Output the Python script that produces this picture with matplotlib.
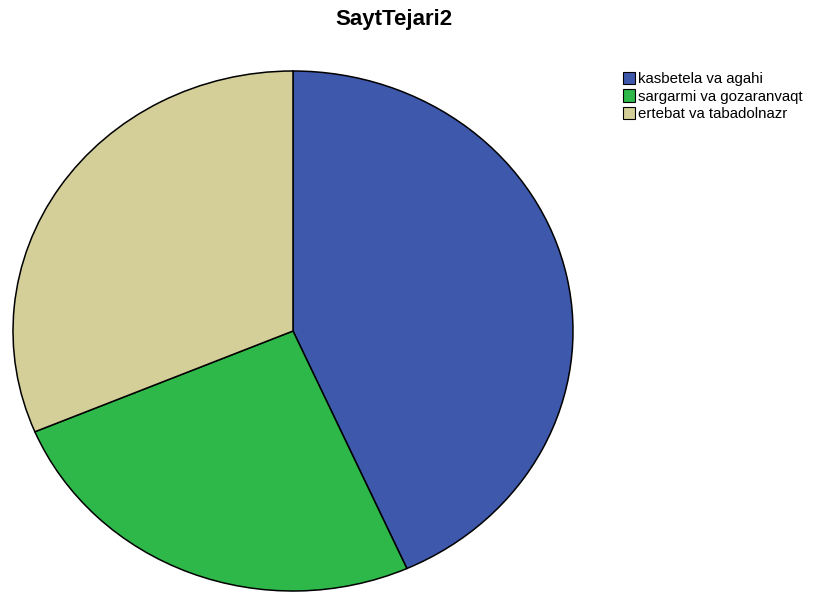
import matplotlib
matplotlib.use('agg')
import matplotlib.pyplot as plt
from matplotlib.patches import Patch

labels = ['kasbetela va agahi', 'sargarmi va gozaranvaqt', 'ertebat va tabadolnazr']
counts = [65, 38, 47]
colors = ['#3e58ac', '#2eb84a', '#d4ce98']

plt.rcParams['font.family'] = ['Liberation Sans', 'DejaVu Sans']

W, H = 823, 592
fig = plt.figure(figsize=(W / 100, H / 100), dpi=100)

# pie area in pixels: left 13, top 71, width 560, height 520 (stretched ellipse)
ax = fig.add_axes([13 / W, 1 - (71 + 520) / H, 560 / W, 520 / H])
ax.pie(counts, colors=colors, startangle=90, counterclock=False,
       wedgeprops=dict(edgecolor='black', linewidth=1.1))
ax.set_aspect('auto')
ax.set_xlim(-1.0, 1.0)
ax.set_ylim(-1.0, 1.0)

fig.text(394 / W, 1 - 19 / H, 'SaytTejari2', ha='center', va='center',
         fontsize=16, fontweight='bold')

handles = [Patch(facecolor=c, edgecolor='black', linewidth=0.8) for c in colors]
fig.legend(handles, labels, loc='upper left', bbox_to_anchor=(621 / W, 1 - 70 / H),
           frameon=False, fontsize=10.8, handlelength=0.85, handleheight=0.9,
           handletextpad=0.15, labelspacing=0.22, borderaxespad=0, borderpad=0.1)

fig.savefig('out.png', dpi=100)
